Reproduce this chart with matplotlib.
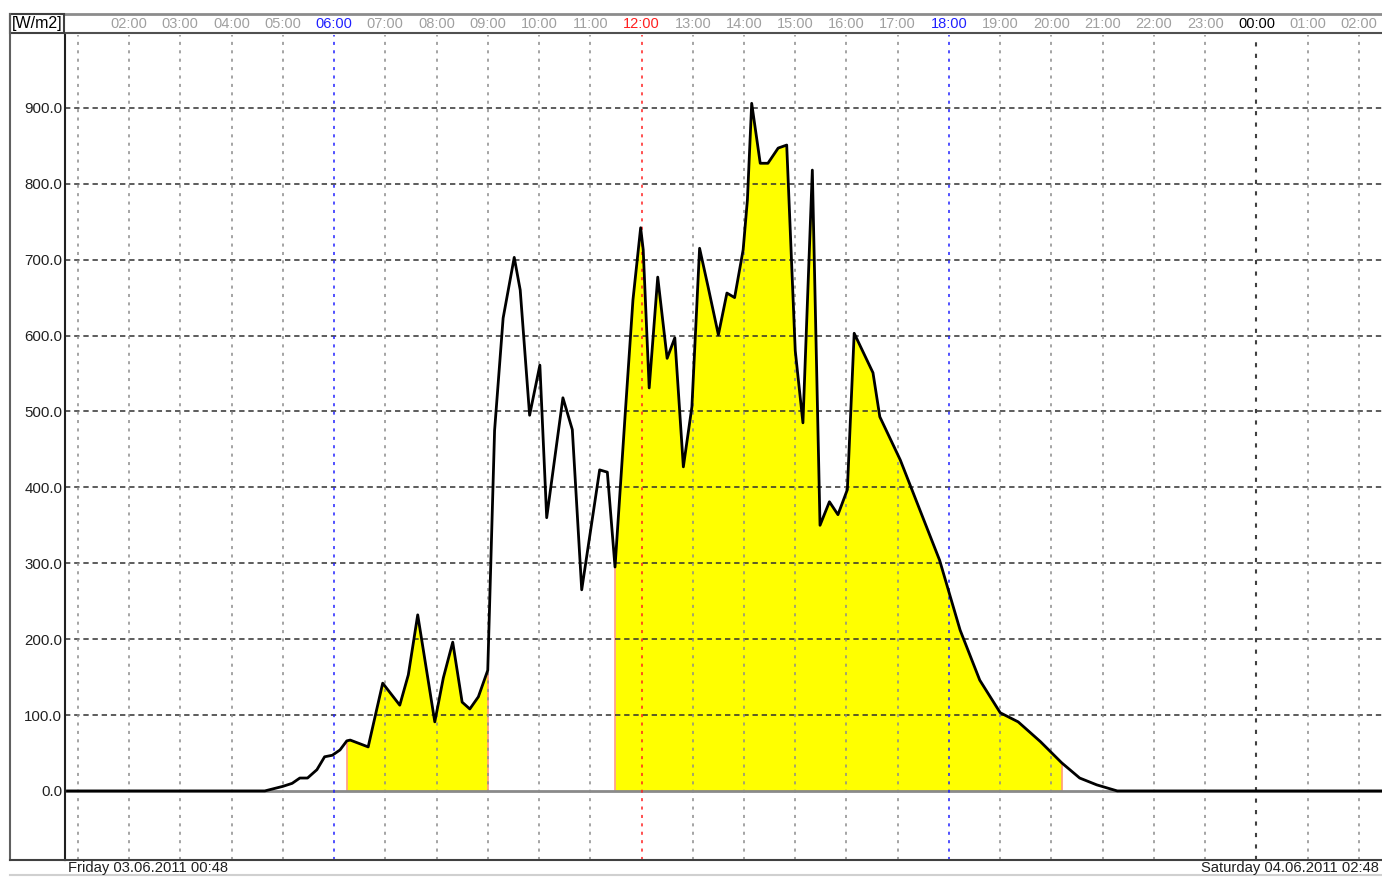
import numpy as np
import matplotlib.pyplot as plt
from matplotlib.patches import Rectangle
from matplotlib.lines import Line2D

# Globalstrahlung [W/m2], Fr 03.06.2011 00:48 bis Sa 04.06.2011 02:48
times = ["00:48", "04:39", "05:00", "05:11", "05:20", "05:29", "05:40", "05:49",
         "05:58", "06:07", "06:15", "06:19", "06:40", "06:57", "07:17", "07:27",
         "07:38", "07:58", "08:08", "08:19", "08:30", "08:39", "08:49", "09:00",
         "09:08", "09:18", "09:31", "09:38", "09:49", "10:01", "10:09", "10:28",
         "10:39", "10:50", "11:11", "11:20", "11:29", "11:41", "11:50", "11:59",
         "12:02", "12:09", "12:19", "12:30", "12:39", "12:49", "12:59", "13:08",
         "13:18", "13:30", "13:40", "13:49", "13:59", "14:04", "14:09", "14:19",
         "14:28", "14:40", "14:50", "15:00", "15:09", "15:20", "15:29", "15:40",
         "15:50", "16:01", "16:09", "16:31", "16:39", "17:03", "17:26", "17:49",
         "18:13", "18:36", "19:00", "19:21", "19:47", "20:12", "20:33", "20:53",
         "21:17", "02:48"]
values = [0, 0, 6, 10, 17, 17, 28, 45,
          47, 54, 66, 67, 58, 142, 113, 153,
          232, 91, 149, 196, 117, 108, 124, 159,
          475, 623, 703, 660, 495, 561, 360, 518,
          476, 265, 423, 420, 295, 498, 647, 742,
          713, 531, 677, 570, 597, 427, 506, 715,
          664, 601, 656, 650, 713, 779, 906, 827,
          827, 847, 851, 580, 485, 818, 350, 381,
          364, 397, 603, 551, 493, 436, 370, 304,
          212, 146, 103, 91, 65, 37, 17, 8,
          0, 0]
fill_from = ["06:15", "11:29"]
fill_to = ["09:00", "20:12"]
y_ticks = [0, 100, 200, 300, 400, 500, 600, 700, 800, 900]
hour_ticks = list(range(1, 27))
start_label = "Friday 03.06.2011 00:48"
end_label = "Saturday 04.06.2011 02:48"
unit = "[W/m2]"


def to_hours(lst):
    out = []
    for s in lst:
        h, m = s.split(":")
        v = int(h) + int(m) / 60
        if out and v < out[-1]:
            v += 24
        out.append(v)
    return np.array(out)


t = to_hours(times)
v = np.array(values, dtype=float)

W, H = 1382, 877
plt.rcParams['font.family'] = ['Liberation Sans Narrow', 'Liberation Sans', 'DejaVu Sans']
fig = plt.figure(figsize=(W / 100, H / 100), dpi=100)


def box(x0, y0, x1, y1):
    return [x0 / W, 1 - y1 / H, (x1 - x0) / W, (y1 - y0) / H]


ax = fig.add_axes(box(65, 35, W, 860))
x_lo, x_hi = 0.751, 26.449
ax.set_xlim(x_lo, x_hi)
ax.set_ylim(-91, 996)

# gelbe Flaechen
for a, b in zip(to_hours(fill_from), to_hours(fill_to)):
    m = (t >= a - 1e-6) & (t <= b + 1e-6)
    ax.fill_between(t[m], v[m], 0, color="#ffff00", lw=0, zorder=1)
    for xx in (a, b):
        ax.plot([xx, xx], [0, np.interp(xx, t, v)], color="#ff9a80", lw=1.2, zorder=1.5)

# Gitter
for y in y_ticks[1:]:
    ax.axhline(y, color="#303030", lw=1.1, ls=(0, (3.5, 2.5)), zorder=2)
ax.axhline(0, color="#8a8a8a", lw=2, zorder=2)
for h in hour_ticks:
    c, lw = "#8c8c8c", 1.1
    if h in (6, 18):
        c = "#2020ff"
    elif h == 12:
        c = "#ff2020"
    elif h == 24:
        c, lw = "#404040", 1.5
    ax.axvline(h, color=c, lw=lw, ls=(0, (2, 3.5)), zorder=2)

ax.plot(t, v, color="black", lw=2, zorder=3)

ax.set_yticks(y_ticks)
ax.set_yticklabels([f"{y:.1f}" for y in y_ticks], fontsize=10.8, color="#202020")
ax.tick_params(axis="y", length=0, pad=2)
ax.set_xticks([])
for s in ("top", "right"):
    ax.spines[s].set_visible(False)
ax.spines["left"].set_color("#202020")
ax.spines["left"].set_linewidth(1.5)
ax.spines["bottom"].set_color("#404040")
ax.spines["bottom"].set_linewidth(1.5)

# Kopfzeile mit Uhrzeiten
hx = fig.add_axes(box(65, 14, W, 33))
hx.set_xlim(x_lo, x_hi)
hx.set_ylim(0, 1)
hx.set_xticks([])
hx.set_yticks([])
hx.patch.set_alpha(0)
for s in ("left", "right"):
    hx.spines[s].set_visible(False)
hx.spines["top"].set_color("#8c8c8c")
hx.spines["top"].set_linewidth(2)
hx.spines["bottom"].set_color("#505050")
hx.spines["bottom"].set_linewidth(1.5)
for h in hour_ticks[1:]:
    c = "#a0a0a0"
    if h in (6, 18):
        c = "#2020ff"
    elif h == 12:
        c = "#ff2020"
    elif h == 24:
        c = "black"
    hx.text(h, 0.5, f"{h % 24:02d}:00", color=c, fontsize=10.5,
            ha="center", va="center")

# Einheit-Kasten und Rahmen
fig.add_artist(Rectangle((10 / W, 1 - 33 / H), 54 / W, 19 / H, transform=fig.transFigure,
                         fill=False, ec="#404040", lw=1.5))
fig.text(37 / W, 1 - 23.5 / H, unit, fontsize=11.5, ha="center", va="center", color="black")
fig.add_artist(Line2D([10 / W, 10 / W], [1 - 14 / H, 1 - 860 / H], transform=fig.transFigure,
                      color="#606060", lw=1.5))
fig.add_artist(Line2D([10 / W, 65 / W], [1 - 860 / H, 1 - 860 / H], transform=fig.transFigure,
                      color="#404040", lw=1.5))
fig.add_artist(Line2D([10 / W, 1], [1 - 875 / H, 1 - 875 / H], transform=fig.transFigure,
                      color="#d0d0d0", lw=1.5))

fig.text(68 / W, 1 - 868 / H, start_label, fontsize=10.6, ha="left", va="center", color="#202020")
fig.text(1379 / W, 1 - 868 / H, end_label, fontsize=10.6, ha="right", va="center", color="#202020")

fig.savefig("out.png", dpi=100)
